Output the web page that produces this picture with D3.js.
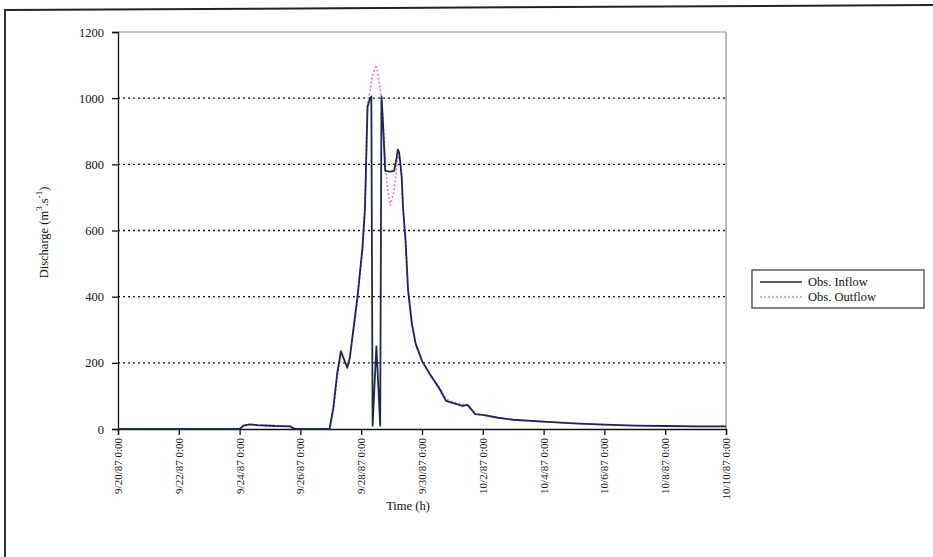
<!DOCTYPE html>
<html>
<head>
<meta charset="utf-8">
<script src="https://cdn.jsdelivr.net/npm/d3@7"></script>
<style>
  body { margin: 0; background: #fff; }
  svg { font-family: "Liberation Serif", "DejaVu Serif", serif; }
</style>
</head>
<body>
<div class="chart"></div>
<script>
// observation times (hourly stamps)
const times = [
  "9/20/87 0:00", "9/24/87 0:00", "9/24/87 3:00", "9/24/87 8:00", "9/24/87 14:00",
  "9/25/87 4:00", "9/25/87 16:00", "9/25/87 18:00", "9/25/87 21:00", "9/26/87 23:00",
  "9/27/87 2:00", "9/27/87 5:00", "9/27/87 8:00", "9/27/87 13:00", "9/27/87 15:00",
  "9/27/87 21:00", "9/28/87 1:00", "9/28/87 3:00", "9/28/87 5:00", "9/28/87 7:00",
  "9/28/87 8:00", "9/28/87 9:00", "9/28/87 12:00", "9/28/87 15:00", "9/28/87 16:00",
  "9/28/87 17:00", "9/28/87 18:00", "9/28/87 19:00", "9/28/87 21:00", "9/28/87 23:00",
  "9/29/87 2:00", "9/29/87 4:00", "9/29/87 5:00", "9/29/87 6:00", "9/29/87 7:00",
  "9/29/87 8:00", "9/29/87 9:00", "9/29/87 11:00", "9/29/87 13:00", "9/29/87 16:00",
  "9/29/87 19:00", "9/30/87 0:00", "9/30/87 6:00", "9/30/87 14:00", "9/30/87 19:00",
  "10/1/87 0:00", "10/1/87 8:00", "10/1/87 12:00", "10/1/87 18:00", "10/2/87 0:00",
  "10/2/87 12:00", "10/3/87 0:00", "10/4/87 0:00", "10/5/87 0:00", "10/6/87 0:00",
  "10/7/87 0:00", "10/8/87 0:00", "10/9/87 0:00", "10/10/87 0:00"
];
const inflow = [
  0, 0, 10, 14, 12,
  9, 8, 3, 0, 0,
  64, 167, 235, 185, 215,
  397, 548, 670, 973, 1000,
  1005, 10, 250, 10, 1005,
  940, 860, 780, 779, 778,
  780, 820, 845, 835, 800,
  760, 670, 570, 420, 318,
  258, 206, 167, 120, 85,
  79, 70, 73, 45, 43,
  34, 28, 22, 17, 13,
  10, 9, 8, 8
];
const outflow = [
  0, 0, 9, 13, 12,
  10, 8, 4, 0, 0,
  55, 150, 228, 190, 210,
  390, 540, 665, 990, 1020,
  1050, 1070, 1100, 1030, 1000,
  950, 880, 790, 720, 676,
  720, 790, 820, 825, 800,
  760, 670, 570, 420, 318,
  258, 206, 167, 125, 90,
  82, 75, 72, 45, 43,
  34, 28, 22, 17, 13,
  10, 9, 8, 8
];
const x_ticks = [
  "9/20/87 0:00", "9/22/87 0:00", "9/24/87 0:00", "9/26/87 0:00", "9/28/87 0:00",
  "9/30/87 0:00", "10/2/87 0:00", "10/4/87 0:00", "10/6/87 0:00", "10/8/87 0:00",
  "10/10/87 0:00"
];
const y_ticks = [0, 200, 400, 600, 800, 1000, 1200];
const series_names = ["Obs. Inflow", "Obs. Outflow"];

const W = 933, H = 557;
const plot_left = 118, plot_right = 726, plot_top = 32, plot_bottom = 429;
const parse = d3.timeParse("%m/%d/%y %H:%M");

const svg = d3.select(".chart").append("svg")
  .attr("width", W)
  .attr("height", H);

// scanned page border (top + left)
svg.append("line").attr("x1", 4).attr("x2", W).attr("y1", 10).attr("y2", 5)
  .attr("stroke", "#222").attr("stroke-width", 2);
svg.append("line").attr("x1", 5).attr("x2", 5).attr("y1", 10).attr("y2", H)
  .attr("stroke", "#333").attr("stroke-width", 2);

const x = d3.scaleTime()
  .domain([parse(x_ticks[0]), parse(x_ticks[x_ticks.length - 1])])
  .range([plot_left, plot_right]);
const y = d3.scaleLinear()
  .domain([0, 1200])
  .range([plot_bottom, plot_top]);

// plot frame (top/right)
svg.append("path")
  .attr("d", `M${plot_left},${plot_top} H${plot_right} V${plot_bottom}`)
  .attr("fill", "none").attr("stroke", "#8a8a8a").attr("stroke-width", 1.2);

// gridlines
svg.append("g").selectAll("line")
  .data(y_ticks.filter(d => d > 0 && d < 1200))
  .join("line")
    .attr("x1", plot_left).attr("x2", plot_right)
    .attr("y1", d => y(d)).attr("y2", d => y(d))
    .attr("stroke", "#111").attr("stroke-width", 1.4)
    .attr("stroke-dasharray", "2,3");

// y axis
const yAxis = svg.append("g")
  .attr("transform", `translate(${plot_left},0)`)
  .call(d3.axisLeft(y).tickValues(y_ticks).tickSize(6).tickPadding(8).tickFormat(d3.format("d")));
yAxis.selectAll("text").attr("font-size", 12.5).attr("fill", "#111")
  .attr("font-family", "Liberation Serif");
yAxis.selectAll("line, path").attr("stroke", "#111").attr("stroke-width", 1.3);

// x axis
const xAxis = svg.append("g")
  .attr("transform", `translate(0,${plot_bottom})`)
  .call(d3.axisBottom(x).tickValues(x_ticks.map(parse)).tickSize(6)
    .tickFormat((d, i) => x_ticks[i]));
xAxis.selectAll("line, path").attr("stroke", "#111").attr("stroke-width", 1.3);
xAxis.selectAll("text")
  .attr("font-size", 11).attr("fill", "#111")
  .attr("font-family", "Liberation Serif")
  .attr("transform", "rotate(-90)")
  .attr("text-anchor", "end")
  .attr("x", -9).attr("y", 0)
  .attr("dy", "0.32em");

// axis titles
svg.append("text")
  .attr("x", 408).attr("y", 510)
  .attr("text-anchor", "middle").attr("font-size", 12.5).attr("fill", "#111")
  .text("Time (h)");
const ylab = svg.append("text")
  .attr("transform", `translate(48,${(plot_top + plot_bottom) / 2 + 2}) rotate(-90)`)
  .attr("text-anchor", "middle").attr("font-size", 12.5).attr("fill", "#111");
ylab.append("tspan").text("Discharge (m");
ylab.append("tspan").attr("dy", -6).attr("font-size", 9).text("3");
ylab.append("tspan").attr("dy", 6).text(".s");
ylab.append("tspan").attr("dy", -6).attr("font-size", 9).text("-1");
ylab.append("tspan").attr("dy", 6).text(")");

// series
const rows = times.map((t, i) => ({ t: parse(t), inflow: inflow[i], outflow: outflow[i] }));
const line = key => d3.line().x(d => x(d.t)).y(d => y(d[key]));

svg.append("path").datum(rows)
  .attr("d", line("outflow"))
  .attr("fill", "none").attr("stroke", "#d98bc0").attr("stroke-width", 1.7)
  .attr("stroke-dasharray", "2,2");
svg.append("path").datum(rows)
  .attr("d", line("inflow"))
  .attr("fill", "none").attr("stroke", "#1e2656").attr("stroke-width", 1.8)
  .attr("stroke-linejoin", "round");

// legend
const lg = svg.append("g").attr("transform", "translate(752,270)");
lg.append("rect").attr("width", 172).attr("height", 38)
  .attr("fill", "#fff").attr("stroke", "#333").attr("stroke-width", 1.2);
const styles = [
  { stroke: "#1e2656", dash: null },
  { stroke: "#d98bc0", dash: "2,2" }
];
series_names.forEach((name, i) => {
  const yy = 12 + i * 15;
  lg.append("line").attr("x1", 8).attr("x2", 50).attr("y1", yy).attr("y2", yy)
    .attr("stroke", styles[i].stroke).attr("stroke-width", 1.6)
    .attr("stroke-dasharray", styles[i].dash);
  lg.append("text").attr("x", 56).attr("y", yy + 4)
    .attr("font-size", 12.5).attr("fill", "#111").text(name);
});
</script>
</body>
</html>
